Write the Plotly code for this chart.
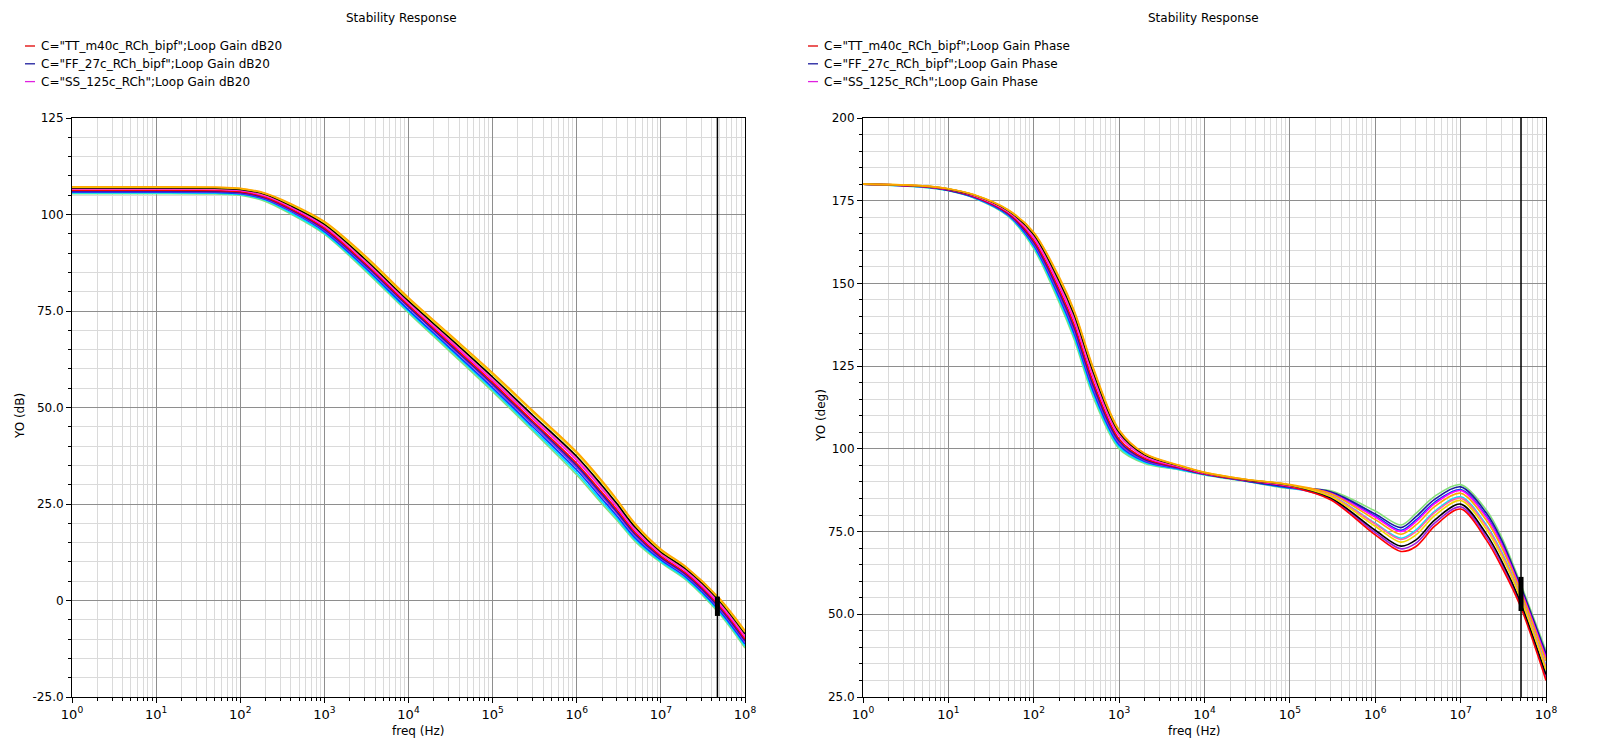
import plotly.graph_objects as go

# ---------------- data ----------------
FREQ_DB = [1, 10, 50, 100, 200, 400, 1e3, 3e3, 1e4, 3e4, 1e5, 3e5, 1e6, 2e6, 3e6, 5e6, 1e7, 2e7, 5e7, 1e8]

DB_ORANGE = [107.2, 107.2, 107.1, 106.8, 105.5, 102.8, 98.2, 89.5, 78.5, 69.2, 59.0, 49.2, 38.5, 31.0, 26.2, 19.8, 13.3, 8.7, 0.5, -7.8]
DB_YELLOW = [107.1, 107.1, 107.0, 106.7, 105.4, 102.6, 97.9, 89.1, 78.1, 68.8, 58.6, 48.8, 38.1, 30.6, 25.9, 19.5, 13.0, 8.5, 0.2, -8.2]
DB_BLACK = [106.9, 106.9, 106.8, 106.5, 105.2, 102.3, 97.5, 88.6, 77.6, 68.3, 57.9, 48.0, 37.3, 29.8, 25.1, 18.9, 12.6, 8.1, -0.2, -8.6]
DB_PINK = [106.7, 106.7, 106.6, 106.4, 105.0, 102.1, 97.2, 88.3, 77.3, 67.9, 57.5, 47.6, 36.8, 29.3, 24.7, 18.5, 12.3, 7.8, -0.6, -9.0]
DB_MAGENTA = [106.6, 106.6, 106.5, 106.2, 104.8, 101.9, 96.9, 88.0, 77.0, 67.5, 57.1, 47.2, 36.3, 28.8, 24.2, 18.1, 12.0, 7.5, -1.0, -9.4]
DB_RED = [106.3, 106.3, 106.2, 105.9, 104.5, 101.5, 96.5, 87.5, 76.5, 67.0, 56.5, 46.5, 35.5, 28.0, 23.5, 17.5, 11.5, 7.0, -1.5, -10.0]
DB_NAVY = [106.1, 106.1, 106.0, 105.7, 104.3, 101.3, 96.2, 87.2, 76.2, 66.6, 56.1, 46.1, 35.0, 27.5, 23.0, 17.1, 11.2, 6.7, -1.9, -10.4]
DB_PURPLE = [106.0, 106.0, 105.9, 105.5, 104.1, 101.0, 95.9, 86.9, 75.9, 66.3, 55.7, 45.6, 34.5, 27.0, 22.6, 16.7, 10.9, 6.4, -2.2, -10.8]
DB_BLUE = [105.8, 105.8, 105.7, 105.4, 103.9, 100.8, 95.6, 86.4, 75.3, 65.7, 55.1, 45.0, 33.8, 26.3, 21.9, 16.1, 10.5, 6.0, -2.7, -11.3]
DB_CYAN = [105.6, 105.6, 105.5, 105.2, 103.7, 100.4, 95.2, 86.0, 74.9, 65.3, 54.6, 44.4, 33.1, 25.6, 21.3, 15.6, 10.1, 5.6, -3.1, -11.8]
DB_GREEN = [105.4, 105.4, 105.3, 105.0, 103.4, 100.1, 94.9, 85.6, 74.5, 64.8, 54.1, 43.9, 32.5, 25.0, 20.8, 15.2, 9.8, 5.3, -3.5, -12.3]

FREQ_PH = [1, 5, 10, 20, 50, 100, 200, 300, 500, 1e3, 2e3, 5e3, 1e4, 3e4, 1e5, 3e5, 1e6, 2e6, 3e6, 5e6, 1e7, 2e7, 3e7, 5e7, 1e8]

PH_ORANGE = [180, 179.5, 178.6, 176.8, 172.3, 165.5, 151.8, 141.6, 124.4, 105.8, 98.6, 95.1, 92.9, 90.8, 89.2, 86.4, 78.6, 74.2, 77.0, 82.6, 86.6, 78.4, 70.4, 57.1, 35.9]
PH_YELLOW = [180, 179.5, 178.6, 176.8, 172.2, 165.3, 151.4, 141.2, 124.0, 105.5, 98.5, 95.0, 92.9, 90.8, 89.1, 85.6, 76.6, 71.8, 74.0, 79.9, 84.4, 75.7, 67.7, 55.0, 33.2]
PH_BLACK = [180, 179.4, 178.5, 176.7, 172.0, 164.8, 150.6, 140.3, 123.1, 105.0, 98.2, 94.9, 92.8, 90.7, 89.0, 85.2, 75.4, 70.6, 72.5, 78.5, 83.3, 74.3, 66.3, 53.9, 31.8]
PH_PINK = [180, 179.4, 178.5, 176.6, 171.8, 164.3, 149.9, 139.5, 122.3, 104.5, 97.9, 94.8, 92.7, 90.7, 88.9, 85.8, 77.3, 72.6, 75.0, 80.8, 85.1, 76.6, 68.6, 55.7, 34.1]
PH_MAGENTA = [180, 179.4, 178.4, 176.5, 171.6, 163.8, 149.1, 138.6, 121.4, 104.0, 97.6, 94.6, 92.6, 90.6, 88.8, 86.6, 79.4, 75.0, 78.0, 83.5, 87.4, 79.3, 71.3, 57.8, 36.8]
PH_RED = [180, 179.3, 178.3, 176.3, 171.3, 163.0, 148.0, 137.3, 120.0, 103.0, 97.1, 94.4, 92.5, 90.5, 88.6, 84.6, 74.0, 69.0, 70.5, 76.7, 81.8, 72.5, 64.5, 52.5, 30.0]
PH_NAVY = [180, 179.3, 178.2, 176.2, 171.1, 162.5, 147.2, 136.4, 119.1, 102.4, 96.8, 94.3, 92.4, 90.4, 88.5, 87.0, 80.3, 76.2, 79.5, 84.8, 88.5, 80.6, 72.6, 58.8, 38.1]
PH_PURPLE = [180, 179.2, 178.2, 176.1, 170.9, 162.0, 146.4, 135.5, 118.2, 101.8, 96.5, 94.1, 92.3, 90.4, 88.4, 84.9, 74.7, 69.8, 71.5, 77.6, 82.5, 73.4, 65.4, 53.2, 30.9]
PH_BLUE = [180, 179.2, 178.1, 176.0, 170.7, 161.5, 145.6, 134.6, 117.3, 101.2, 96.2, 94.0, 92.3, 90.3, 88.2, 86.8, 79.7, 75.4, 78.5, 83.9, 87.7, 79.7, 71.7, 58.1, 37.2]
PH_CYAN = [180, 179.1, 178.1, 175.9, 170.5, 161.0, 144.8, 133.7, 116.4, 100.6, 95.9, 93.8, 92.2, 90.3, 88.1, 85.9, 77.5, 73.0, 75.5, 81.2, 85.5, 77.0, 69.0, 56.0, 34.5]
PH_GREEN = [180, 179.1, 178.0, 175.8, 170.3, 160.5, 144.0, 132.8, 115.5, 100.0, 95.6, 93.7, 92.1, 90.2, 88.0, 87.3, 81.2, 77.0, 80.5, 85.7, 89.2, 81.5, 73.5, 59.5, 39.0]

MARKER_F_DB = 4.7e7
MARKER_DB = [1.0, -4.0]
MARKER_F_PH = 5.1e7
MARKER_PH = [61.3, 51.0]

LEGEND_DB = ['C="TT_m40c_RCh_bipf";Loop Gain dB20', 'C="FF_27c_RCh_bipf";Loop Gain dB20', 'C="SS_125c_RCh";Loop Gain dB20']
LEGEND_PH = ['C="TT_m40c_RCh_bipf";Loop Gain Phase', 'C="FF_27c_RCh_bipf";Loop Gain Phase', 'C="SS_125c_RCh";Loop Gain Phase']

DB_TICKS = [-25, 0, 25, 50, 75, 100, 125]
DB_TICKTEXT = ["-25.0", "0", "25.0", "50.0", "75.0", "100", "125"]
PH_TICKS = [25, 50, 75, 100, 125, 150, 175, 200]
PH_TICKTEXT = ["25.0", "50.0", "75.0", "100", "125", "150", "175", "200"]
X_TICKS = [1, 10, 100, 1e3, 1e4, 1e5, 1e6, 1e7, 1e8]
X_TICKTEXT = ["10<sup>%d</sup>" % i for i in range(9)]

# ---------------- styling ----------------
COLORS = {
    "orange": "#ffa500", "yellow": "#f2d600", "black": "#000000", "pink": "#ff5fa8",
    "magenta": "#ff00ff", "red": "#ff0000", "navy": "#1c1c9c", "purple": "#9a20e0",
    "blue": "#0040ff", "cyan": "#00e5ff", "green": "#86e07a",
}
DB_SERIES = [("green", DB_GREEN), ("cyan", DB_CYAN), ("blue", DB_BLUE), ("purple", DB_PURPLE),
             ("navy", DB_NAVY), ("red", DB_RED), ("magenta", DB_MAGENTA), ("pink", DB_PINK),
             ("black", DB_BLACK), ("yellow", DB_YELLOW), ("orange", DB_ORANGE)]
PH_SERIES = [("green", PH_GREEN), ("cyan", PH_CYAN), ("blue", PH_BLUE), ("purple", PH_PURPLE),
             ("navy", PH_NAVY), ("red", PH_RED), ("magenta", PH_MAGENTA), ("pink", PH_PINK),
             ("black", PH_BLACK), ("yellow", PH_YELLOW), ("orange", PH_ORANGE)]

W, H = 1600, 748
FONT = "DejaVu Sans"
GRID_MAJOR = "#8e8e8e"
GRID_MINOR = "#dadada"
TOP, BOTTOM = 118, 697

fig = go.Figure()

for cname, vals in DB_SERIES:
    fig.add_trace(go.Scatter(x=FREQ_DB, y=vals, mode="lines", xaxis="x", yaxis="y",
                             line=dict(color=COLORS[cname], width=1.6, shape="spline", smoothing=0.9),
                             showlegend=False, hoverinfo="skip"))
for cname, vals in PH_SERIES:
    fig.add_trace(go.Scatter(x=FREQ_PH, y=vals, mode="lines", xaxis="x2", yaxis="y2",
                             line=dict(color=COLORS[cname], width=1.6, shape="spline", smoothing=0.9),
                             showlegend=False, hoverinfo="skip"))

# vertical marker lines and markers
fig.add_trace(go.Scatter(x=[MARKER_F_DB, MARKER_F_DB], y=[-25, 125], mode="lines", xaxis="x", yaxis="y",
                         line=dict(color="black", width=1.5), showlegend=False, hoverinfo="skip"))
fig.add_trace(go.Scatter(x=[MARKER_F_DB, MARKER_F_DB], y=MARKER_DB, mode="lines", xaxis="x", yaxis="y",
                         line=dict(color="black", width=5), showlegend=False, hoverinfo="skip"))
fig.add_trace(go.Scatter(x=[MARKER_F_PH, MARKER_F_PH], y=[25, 200], mode="lines", xaxis="x2", yaxis="y2",
                         line=dict(color="black", width=1.5), showlegend=False, hoverinfo="skip"))
fig.add_trace(go.Scatter(x=[MARKER_F_PH, MARKER_F_PH], y=MARKER_PH, mode="lines", xaxis="x2", yaxis="y2",
                         line=dict(color="black", width=5), showlegend=False, hoverinfo="skip"))

minor_x = [k * 10 ** d for d in range(8) for k in range(2, 10)]

def xaxis_cfg(domain, anchor):
    return dict(type="log", range=[0, 8], domain=domain, anchor=anchor, automargin=False,
                tickvals=X_TICKS, ticktext=X_TICKTEXT, ticks="outside", ticklen=5, tickcolor="black",
                showline=True, linecolor="black", linewidth=1, mirror=True,
                showgrid=True, gridcolor=GRID_MAJOR, gridwidth=1, zeroline=False,
                minor=dict(tickvals=minor_x, ticks="outside", ticklen=3, tickcolor="black",
                           showgrid=True, gridcolor=GRID_MINOR, gridwidth=1),
                tickfont=dict(family=FONT, size=13, color="black"))

def yaxis_cfg(rng, tv, tt, anchor):
    return dict(range=rng, domain=[(H - BOTTOM) / H, (H - TOP) / H], anchor=anchor, automargin=False,
                tickvals=tv, ticktext=tt, ticks="outside", ticklen=5, tickcolor="black",
                showline=True, linecolor="black", linewidth=1, mirror=True,
                showgrid=True, gridcolor=GRID_MAJOR, gridwidth=1, zeroline=False,
                minor=dict(dtick=5, ticks="outside", ticklen=3, tickcolor="black",
                           showgrid=True, gridcolor=GRID_MINOR, gridwidth=1),
                tickfont=dict(family=FONT, size=12, color="black"))

def paper_text(txt, px, py, xanchor="center", angle=0, size=12):
    return dict(text=txt, x=px / W, y=1 - py / H, xref="paper", yref="paper",
                xanchor=xanchor, yanchor="middle", showarrow=False, textangle=angle,
                font=dict(family=FONT, size=size, color="black"))

annotations = [
    paper_text("Stability Response", 402, 17.5),
    paper_text("Stability Response", 1203, 17.5),
    paper_text("freq (Hz)", 418, 731),
    paper_text("freq (Hz)", 1194, 731),
    paper_text("YO (dB)", 20, 416, angle=-90),
    paper_text("YO (deg)", 821, 416, angle=-90),
]
shapes = []
lx0 = {0: 25, 1: 808}
leg_colors = ["#e00000", "#1c1c9c", "#e020e0"]
for side, legend in enumerate((LEGEND_DB, LEGEND_PH)):
    for i, (txt, col) in enumerate(zip(legend, leg_colors)):
        yy = 46 + i * 17.8
        shapes.append(dict(type="line", xref="paper", yref="paper",
                           x0=lx0[side] / W, x1=(lx0[side] + 10) / W, y0=1 - yy / H, y1=1 - yy / H,
                           line=dict(color=col, width=1.3)))
        annotations.append(paper_text(txt, lx0[side] + 14, yy, xanchor="left"))

fig.update_layout(
    width=W, height=H, autosize=False,
    margin=dict(l=0, r=0, t=0, b=0, autoexpand=False),
    paper_bgcolor="white", plot_bgcolor="white",
    showlegend=False,
    xaxis=xaxis_cfg([72 / W, 745 / W], "y"),
    yaxis=yaxis_cfg([-25, 125], DB_TICKS, DB_TICKTEXT, "x"),
    xaxis2=xaxis_cfg([863 / W, 1546 / W], "y2"),
    yaxis2=yaxis_cfg([25, 200], PH_TICKS, PH_TICKTEXT, "x2"),
    annotations=annotations, shapes=shapes,
)

fig.write_html("out.html")
